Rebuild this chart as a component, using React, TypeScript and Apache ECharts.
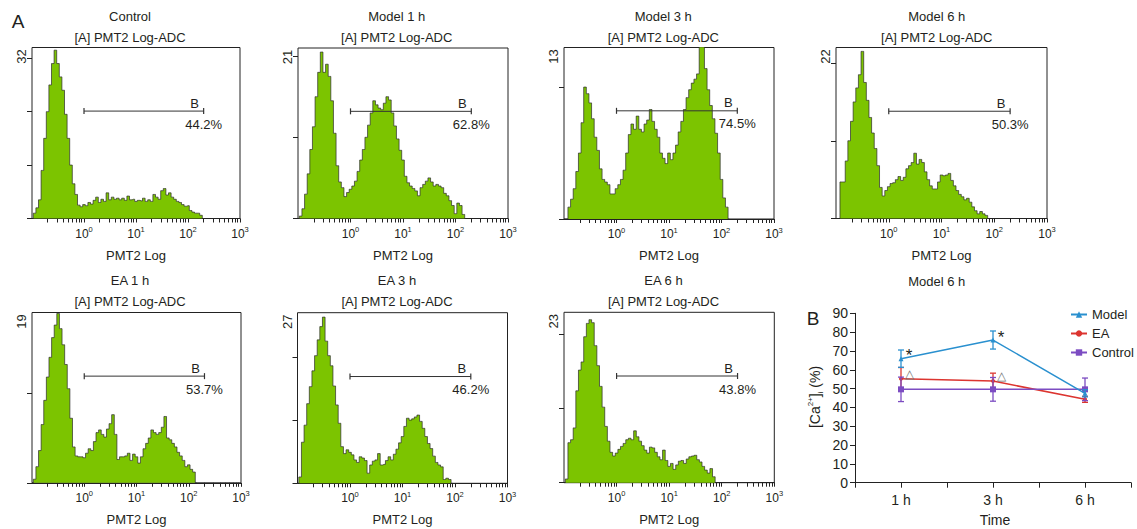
import React, { useEffect, useRef } from 'react';
import * as echarts from 'echarts';

// ---------------- DATA ----------------
const panelTitles = ['Control', 'Model 1 h', 'Model 3 h', 'Model 6 h', 'EA 1 h', 'EA 3 h', 'EA 6 h'];
const panelSubtitle = '[A] PMT2 Log-ADC';
const yMaxLabels = [32, 21, 13, 22, 19, 27, 23];
const gatePercents = ['44.2%', '62.8%', '74.5%', '50.3%', '53.7%', '46.2%', '43.8%'];
const gateLevels = [20.1, 13.2, 8.2, 13.8, 11.9, 16.9, 14.4];
const gateName = 'B';
const gateRange = [1, 200];
const xDecadeLabels = [1, 10, 100, 1000];
// histogram bins: log10 channel starts at -1.0, step 0.05 decade
const binStartLog = -1.0;
const binStepLog = 0.05;

const histControl = [0, 1, 2, 3.5, 9, 15, 20, 25, 29, 31.5, 29, 26.5, 24, 19.5, 15, 10, 6.5, 4.5, 2.5, 2.2, 2.6, 2.4, 3, 2.7, 3.4, 4, 3, 3.6, 3.2, 4.8, 3.5, 4, 3.6, 3.8, 3.5, 3.8, 3.4, 4.2, 3.5, 3.6, 3.2, 3.4, 3.3, 3.8, 3.2, 3.5, 3.2, 4.5, 4, 3.6, 5.2, 5.6, 4.4, 4.8, 4, 3.6, 3.2, 3, 2.6, 2.3, 2.4, 1.5, 1.2, 1.0, 1.0, 0.6, 0];
const histModel1 = [0, 0.3, 1.2, 3, 5.5, 8.5, 11.3, 15, 18, 20.5, 18, 19, 17.5, 14.5, 10.5, 6.5, 4.5, 3.8, 2.7, 3.2, 3.6, 4, 4.6, 5.8, 7.2, 8.5, 10, 11.5, 13, 14.5, 14, 13.6, 13.4, 14.2, 15, 14.6, 13, 11.4, 9.8, 8.4, 7.2, 5.2, 4.4, 4, 3.7, 3.4, 2.8, 3.8, 4.2, 4.6, 5, 4.5, 4, 4.2, 4, 3.8, 3.1, 2.8, 2.2, 1.6, 0.6, 1.9, 1.6, 0.5, 0];
const histModel3 = [0, 0, 0.9, 1.5, 2.3, 3.6, 5, 7.3, 10, 9.5, 8.8, 7.6, 6.2, 5.2, 3.8, 3, 2.8, 2.6, 1.9, 1.9, 2.3, 2.6, 3, 3.7, 5, 6.4, 7.2, 6.8, 7.8, 6.8, 6.6, 7.2, 7.5, 8.3, 7.4, 6.8, 6.2, 5, 4.6, 4.2, 5, 4.5, 5, 5.6, 6.6, 7.4, 8.3, 9.2, 9.8, 10.3, 10.6, 11, 14, 14, 11.4, 9.8, 8.6, 7.6, 6.5, 5, 3, 1.6, 0.9, 0];
const histModel6 = [0, 0, 4.7, 4.7, 7.4, 10, 12.5, 15, 16.8, 18.5, 21.5, 17.5, 15.2, 13, 11, 9, 6.8, 4, 2.9, 3.6, 4.1, 4.5, 4.6, 5, 5.4, 4.9, 5.3, 6.4, 6.8, 7.2, 8.4, 7, 7.6, 7.2, 6, 5, 4.2, 3.8, 3.8, 4.7, 5.6, 5.5, 5.6, 5.8, 4.9, 4.2, 3.6, 3.1, 2.8, 2.4, 2.6, 2.1, 1.5, 1, 0.6, 0.9, 0.6, 0.4, 0];
const histEA1 = [0, 0.4, 1.8, 3.6, 6.5, 9.2, 11.8, 14, 16.2, 17.6, 18.9, 17.2, 15.4, 13.2, 10.5, 7.2, 4, 3, 2.9, 2.9, 2.8, 3.3, 3.8, 3.6, 4.6, 5.6, 5.9, 5.4, 5.1, 6, 6.6, 7.6, 5.4, 2.6, 2.9, 2.9, 3, 3.3, 2.5, 3.2, 2.9, 2.2, 2.9, 3.8, 4.4, 5, 5.9, 5.6, 5.4, 5.6, 6.2, 7.4, 5, 4.8, 4.4, 4, 3.4, 3, 2.5, 1.8, 2, 1.5, 1.2, 0];
const histEA3 = [0, 1, 6.5, 9.2, 12.6, 15.3, 17.8, 20.2, 22.7, 24.8, 26.3, 22.5, 20.2, 18.6, 15.4, 12.4, 9.5, 5.8, 4.7, 5.3, 4.9, 4.5, 3.7, 3.3, 4.2, 4, 3.6, 1.6, 2.9, 3.5, 3.7, 4.7, 2.9, 3, 3.6, 4.2, 3.7, 4.6, 5.4, 6.4, 7.4, 9, 10.3, 10, 10.2, 10.5, 10.8, 9.8, 8.7, 7.4, 6.3, 5.5, 4.3, 3.3, 2.9, 2.6, 0.6, 0.8, 0.6, 0];
const histEA6 = [0, 0.5, 5.4, 5.8, 7.4, 12.4, 15.2, 16.3, 19.7, 21.5, 22, 21.6, 18.5, 15.8, 13, 10.2, 7.6, 5.6, 4.1, 3.6, 4, 4.5, 4.9, 5.3, 5.8, 6, 5.8, 7, 6.2, 5.6, 5, 4.4, 4, 4.8, 4.7, 4.1, 3.5, 3.1, 4.4, 3, 2.2, 2.6, 1.8, 2.4, 2.9, 3, 2.6, 3.2, 3.5, 3.6, 3.7, 3.1, 2.8, 2.2, 1.7, 1.3, 1.9, 0.8, 0];
const histograms = [histControl, histModel1, histModel3, histModel6, histEA1, histEA3, histEA6];

// panel B
const panelBTitle = 'Model 6 h';
const timeLabels = ['1 h', '3 h', '6 h'];
const timePositions = [1, 3, 5];
const seriesNames = ['Model', 'EA', 'Control'];
const modelMean = [65.9, 75.8, 47.5];
const modelErr = [4.6, 4.8, 1.9];
const eaMean = [55.2, 54.0, 44.3];
const eaErr = [6.0, 4.2, 1.6];
const controlMean = [49.6, 49.6, 49.6];
const controlErr = [6.5, 6.3, 6.0];
const modelMarks = ['*', '*', ''];
const eaMarks = ['\u25B3', '\u25B3', ''];

// ---------------- STYLE / LAYOUT ----------------
const FONT = '"Liberation Sans", Arial, Helvetica, sans-serif';
const TXT = '#231f20';
const GREEN = '#7cc400';
const C_MODEL = '#2a90cf';
const C_EA = '#dc3530';
const C_CONTROL = '#7c4cc2';

const boxes = [
  { l: 32, t: 47.5, w: 208, h: 171 },
  { l: 298, t: 48, w: 210, h: 170.5 },
  { l: 564, t: 47.5, w: 210, h: 171.5 },
  { l: 836, t: 47.5, w: 211, h: 171 },
  { l: 32, t: 312.5, w: 209, h: 170.3 },
  { l: 297.5, t: 312.7, w: 210, h: 170.6 },
  { l: 564, t: 312.3, w: 210.3, h: 170.4 },
];
const titleX = [130, 396.7, 663.3, 936.7, 130, 397, 663.5];
const titleY = [16, 16, 16, 16, 280.7, 280.7, 280.7];
const subY = [37, 37, 37, 37, 301.7, 301.7, 301.7];
const boxB = { l: 855, t: 313.3, w: 276, h: 169.4 };

const logTicks: number[] = [];
[0.1, 1, 10, 100].forEach((d) => {
  for (let m = 1; m <= 9; m++) {
    if (d === 0.1 && m === 1) continue;
    logTicks.push(+(m * d).toPrecision(3));
  }
});
logTicks.push(1000);

function txt(x: number, y: number, text: string, size = 13) {
  return {
    type: 'text',
    x,
    y,
    silent: true,
    style: {
      text,
      fontSize: size,
      fontFamily: FONT,
      fill: TXT,
      align: 'center',
      verticalAlign: 'middle',
      textAlign: 'center',
      textVerticalAlign: 'middle',
    },
  };
}

function buildOption() {
  const grid: any[] = [];
  const xAxis: any[] = [];
  const yAxis: any[] = [];
  const series: any[] = [];
  const graphic: any[] = [];

  histograms.forEach((hist, k) => {
    const b = boxes[k];
    const M = yMaxLabels[k];
    grid.push({
      left: b.l, top: b.t, width: b.w, height: b.h,
      show: true, borderColor: '#222', borderWidth: 1, backgroundColor: 'transparent',
      containLabel: false,
    });
    xAxis.push({
      type: 'log', logBase: 10, min: 0.1, max: 1000, gridIndex: k,
      axisLine: { show: true, lineStyle: { color: '#222', width: 1 } },
      axisTick: { show: true, inside: false, length: 4, customValues: logTicks, lineStyle: { color: '#222', width: 1 } },
      minorTick: { show: false },
      splitLine: { show: false },
      axisLabel: {
        show: true,
        customValues: xDecadeLabels,
        margin: 7,
        formatter: (v: number) => `{b|10}{s|${Math.round(Math.log10(v))}}`,
        rich: {
          b: { fontSize: 12, fontFamily: FONT, color: TXT, lineHeight: 16 },
          s: { fontSize: 7.5, fontFamily: FONT, color: TXT, lineHeight: 9, verticalAlign: 'top' },
        },
      },
      name: 'PMT2 Log', nameLocation: 'middle', nameGap: 30,
      nameTextStyle: { fontSize: 13, fontFamily: FONT, color: TXT },
    });
    yAxis.push({
      type: 'value', min: 0, max: M, gridIndex: k,
      axisLine: { show: false },
      axisTick: { show: true, inside: false, length: 5, customValues: [0, 10, 20, 30].filter((v) => v < M), lineStyle: { color: '#222', width: 1 } },
      splitLine: { show: false },
      axisLabel: {
        show: true, customValues: [M * (1 - 9 / 170)], formatter: () => String(M),
        rotate: 90, fontSize: 13, fontFamily: FONT, color: TXT, margin: 4,
      },
    });
    series.push({
      type: 'line', xAxisIndex: k, yAxisIndex: k, silent: true,
      data: hist.map((v, i) => [Math.pow(10, binStartLog + i * binStepLog), v]),
      step: 'middle', symbol: 'none', clip: true,
      lineStyle: { color: '#2b2b2b', width: 0.7 },
      areaStyle: { color: GREEN, opacity: 1 },
      z: 2,
    });
    series.push({
      type: 'line', xAxisIndex: k, yAxisIndex: k, silent: true,
      data: [[gateRange[0], gateLevels[k]], [gateRange[1], gateLevels[k]]],
      symbol: 'rect', symbolSize: [1.2, 6],
      itemStyle: { color: '#333' },
      lineStyle: { color: '#333', width: 1 },
      z: 3,
    });
    series.push({
      type: 'scatter', xAxisIndex: k, yAxisIndex: k, silent: true, symbolSize: 0,
      itemStyle: { opacity: 1 },
      data: [
        { value: [gateRange[1], gateLevels[k]], name: gateName, label: { offset: [-9, -8] } },
        { value: [gateRange[1], gateLevels[k]], name: gatePercents[k], label: { offset: [0, 13] } },
      ],
      label: {
        show: true, position: 'inside', formatter: '{b}', fontSize: 13, fontFamily: FONT,
        color: TXT, opacity: 1, textBorderWidth: 0,
      },
      z: 4,
    });
    graphic.push(txt(titleX[k], titleY[k], panelTitles[k]));
    graphic.push(txt(titleX[k], subY[k], panelSubtitle));
  });

  // ---- Panel B ----
  const gi = histograms.length;
  grid.push({ left: boxB.l, top: boxB.t, width: boxB.w, height: boxB.h, show: false });
  xAxis.push({
    type: 'value', min: 0, max: 6, interval: 1, gridIndex: gi,
    axisLine: { show: true, lineStyle: { color: '#222', width: 1 } },
    axisTick: { show: true, inside: false, length: 5, lineStyle: { color: '#222' } },
    splitLine: { show: false },
    axisLabel: {
      fontSize: 14, fontFamily: FONT, color: TXT, margin: 10,
      formatter: (v: number) => { const i = timePositions.indexOf(v); return i >= 0 ? timeLabels[i] : ''; },
    },
  });
  yAxis.push({
    type: 'value', min: 0, max: 90, interval: 10, gridIndex: gi,
    axisLine: { show: true, lineStyle: { color: '#222', width: 1 } },
    axisTick: { show: true, inside: false, length: 5, lineStyle: { color: '#222' } },
    splitLine: { show: false },
    axisLabel: { fontSize: 14, fontFamily: FONT, color: TXT, margin: 7 },
  });

  const errSeries = (mean: number[], err: number[], color: string, z: number) => ({
    type: 'custom', xAxisIndex: gi, yAxisIndex: gi, silent: true, z,
    data: timePositions.map((x, i) => [x, mean[i] - err[i], mean[i] + err[i]]),
    renderItem: (_p: any, api: any) => {
      const lo = api.coord([api.value(0), api.value(1)]);
      const hi = api.coord([api.value(0), api.value(2)]);
      const w = 3;
      const st = { stroke: color, lineWidth: 1.3 };
      return {
        type: 'group',
        children: [
          { type: 'line', shape: { x1: lo[0], y1: lo[1], x2: hi[0], y2: hi[1] }, style: st },
          { type: 'line', shape: { x1: lo[0] - w, y1: lo[1], x2: lo[0] + w, y2: lo[1] }, style: st },
          { type: 'line', shape: { x1: hi[0] - w, y1: hi[1], x2: hi[0] + w, y2: hi[1] }, style: st },
        ],
      };
    },
  });

  const lineSeries = (name: string, mean: number[], marks: string[], color: string, symbol: string, size: number, z: number, markStyle: any) => ({
    type: 'line', name, xAxisIndex: gi, yAxisIndex: gi, z,
    data: timePositions.map((x, i) => ({
      value: [x, mean[i]],
      label: marks[i] ? { show: true, formatter: marks[i], ...markStyle } : { show: false },
    })),
    symbol, symbolSize: size, showSymbol: true,
    itemStyle: { color },
    lineStyle: { color, width: 1.5 },
    label: { show: false },
  });

  series.push(errSeries(eaMean, eaErr, C_EA, 5));
  series.push(lineSeries('EA', eaMean, eaMarks, C_EA, 'circle', 4, 6,
    { position: 'inside', offset: [8, -5], fontSize: 12, color: '#777', fontFamily: FONT }));
  series.push(errSeries(controlMean, controlErr, C_CONTROL, 7));
  series.push(lineSeries('Control', controlMean, ['', '', ''], C_CONTROL, 'rect', 6, 8, {}));
  series.push(errSeries(modelMean, modelErr, C_MODEL, 9));
  series.push(lineSeries('Model', modelMean, modelMarks, C_MODEL, 'triangle', 5, 10,
    { position: 'inside', offset: [8, -3], fontSize: 17, color: TXT, fontFamily: FONT }));

  graphic.push(txt(936.7, 281.7, panelBTitle));
  graphic.push(txt(995, 519.5, 'Time', 14));
  graphic.push(txt(18, 21.5, 'A', 19));
  graphic.push(txt(813, 318, 'B', 19));
  graphic.push({
    type: 'text', x: 815, y: 397, rotation: Math.PI / 2, silent: true,
    style: {
      text: '{a|[Ca}{s|2+}{a|]}{d|i}{a| (%)}',
      fontSize: 14, fontFamily: FONT, fill: TXT,
      align: 'center', verticalAlign: 'middle', textAlign: 'center', textVerticalAlign: 'middle',
      rich: {
        a: { fontSize: 14, fontFamily: FONT, lineHeight: 18 },
        s: { fontSize: 8, fontFamily: FONT, lineHeight: 9, verticalAlign: 'top' },
        d: { fontSize: 8, fontFamily: FONT, lineHeight: 9, verticalAlign: 'bottom' },
      },
    },
  });

  return {
    animation: false,
    backgroundColor: '#ffffff',
    textStyle: { fontFamily: FONT },
    legend: {
      data: seriesNames,
      orient: 'vertical', left: 1070, top: 308,
      itemWidth: 16, itemHeight: 8, itemGap: 6,
      textStyle: { fontSize: 13, fontFamily: FONT, color: TXT },
      selectedMode: false,
      padding: 0,
    },
    grid, xAxis, yAxis, series, graphic,
  };
}

export default function App() {
  const ref = useRef<HTMLDivElement>(null);
  useEffect(() => {
    if (!ref.current) return;
    const chart = echarts.init(ref.current, undefined, { renderer: 'svg' });
    chart.setOption(buildOption() as any);
    return () => chart.dispose();
  }, []);
  return (
    <div
      ref={ref}
      style={{ position: 'absolute', left: 0, top: 0, width: 1137, height: 529, background: '#fff' }}
    />
  );
}
